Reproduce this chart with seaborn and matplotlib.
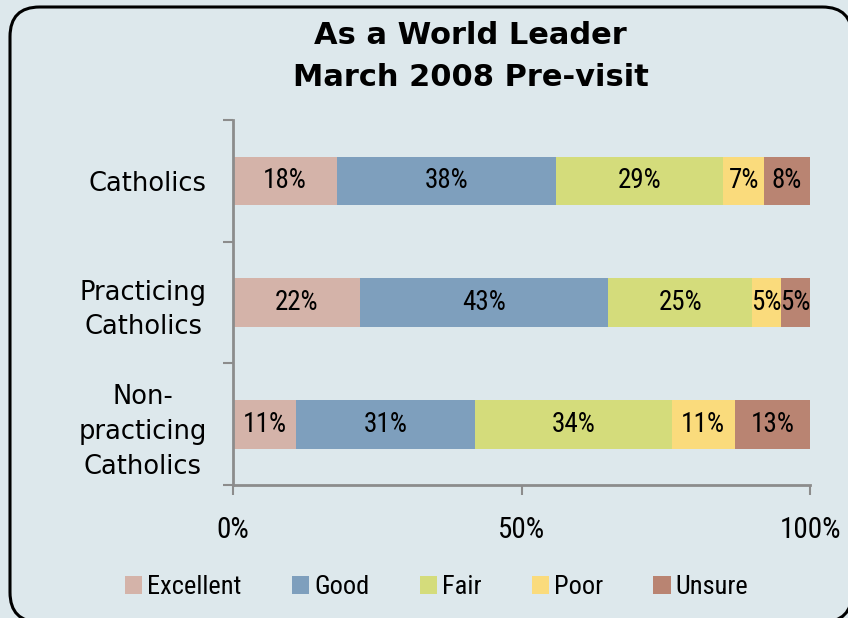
import numpy as np
import pandas as pd
import matplotlib.pyplot as plt
import seaborn as sns
from matplotlib.patches import FancyBboxPatch, Patch

groups = ["Catholics", "Practicing\nCatholics", "Non-\npracticing\nCatholics"]
ratings = ["Excellent", "Good", "Fair", "Poor", "Unsure"]
excellent = [18, 22, 11]
good = [38, 43, 31]
fair = [29, 25, 34]
poor = [7, 5, 11]
unsure = [8, 5, 13]
colors = ["#d4b3a9", "#7e9fbd", "#d4dc7b", "#fadb7c", "#b98472"]

bg = "#dde8ec"
axis_grey = "#8c8c8c"
narrow = ["Roboto Condensed", "Archivo Narrow", "PT Sans Narrow", "Liberation Sans Narrow",
          "Liberation Sans", "DejaVu Sans"]

vals = np.array([excellent, good, fair, poor, unsure], dtype=float)
cum = vals.cumsum(axis=0)

sns.set_style("white")
plt.rcParams["font.family"] = ["DejaVu Sans"]
plt.rcParams["text.color"] = "black"
plt.rcParams["xtick.color"] = "black"
plt.rcParams["ytick.color"] = "black"

fig = plt.figure(figsize=(8.48, 6.18), dpi=100, facecolor=bg)
box = FancyBboxPatch((10 / 848, -4 / 618), 842 / 848, (618 - 7 + 4) / 618,
                     boxstyle="round,pad=0,rounding_size=0.035", transform=fig.transFigure,
                     facecolor=bg, edgecolor="black", linewidth=2.2,
                     mutation_aspect=848 / 618, zorder=-5)
fig.patches.append(box)

ax = fig.add_axes([233 / 848, 1 - 485 / 618, (810 - 233) / 848, (485 - 120) / 618])
ax.set_facecolor("none")

# stacked bars: draw cumulative totals from largest to smallest
for i in range(len(ratings) - 1, -1, -1):
    df = pd.DataFrame({"group": groups, "value": cum[i]})
    sns.barplot(data=df, x="value", y="group", orient="h", color=colors[i],
                saturation=1, width=0.4, ax=ax, order=groups,
                edgecolor="none", linewidth=0)

for i in range(len(ratings)):
    for j in range(len(groups)):
        mid = cum[i, j] - vals[i, j] / 2
        ax.text(mid, j, f"{int(vals[i, j])}%", ha="center", va="center",
                fontsize=19.5, family=narrow, color="black")

ax.set_xlim(0, 100)
ax.set_ylim(2.5, -0.5)
ax.set_xlabel("")
ax.set_ylabel("")
ax.set_xticks([0, 50, 100])
ax.set_xticklabels(["0%", "50%", "100%"], family=narrow, fontsize=21)
ax.tick_params(axis="x", length=7, width=1.5, color=axis_grey, pad=15, direction="out", bottom=True)
ax.set_yticks(range(len(groups)))
ax.set_yticklabels(groups, fontsize=18.5, linespacing=1.45)
for lab in ax.get_yticklabels():
    lab.set_multialignment("center")
ax.tick_params(axis="y", length=0, pad=19)
ax.set_yticks([-0.5, 0.5, 1.5, 2.5], minor=True)
ax.tick_params(axis="y", which="minor", length=7, width=1.5, color=axis_grey, left=True)

for s in ["top", "right"]:
    ax.spines[s].set_visible(False)
for s in ["left", "bottom"]:
    ax.spines[s].set_color(axis_grey)
    ax.spines[s].set_linewidth(2)

fig.text(0.555, 1 - 36 / 618, "As a World Leader", ha="center", va="center",
         fontsize=22, fontweight="bold")
fig.text(0.555, 1 - 78 / 618, "March 2008 Pre-visit", ha="center", va="center",
         fontsize=22, fontweight="bold")

handles = [Patch(facecolor=c, edgecolor="none") for c in colors]
leg = fig.legend(handles, ratings, loc="center", bbox_to_anchor=(0.515, 1 - 587 / 618),
                 ncol=5, frameon=False, handlelength=0.65, handleheight=0.65,
                 handletextpad=0.2, columnspacing=1.9, prop={"family": narrow, "size": 19})

fig.savefig("out.png", dpi=100, facecolor=bg)
